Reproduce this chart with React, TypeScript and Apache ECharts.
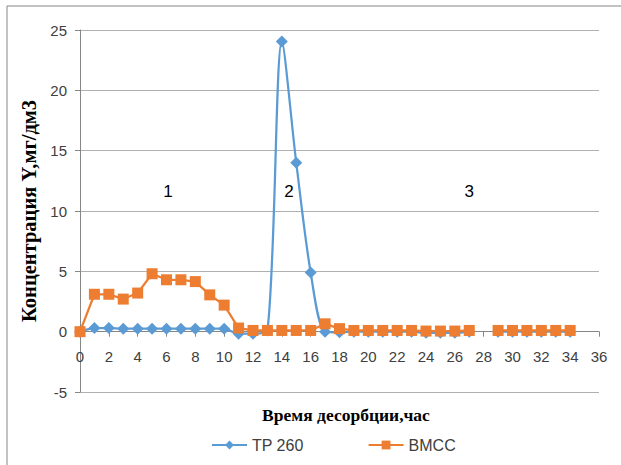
import React, { useEffect, useRef } from "react";
import * as echarts from "echarts";

const hours: number[] = [0,1,2,3,4,5,6,7,8,9,10,11,12,13,14,15,16,17,18,19,20,21,22,23,24,25,26,27,28,29,30,31,32,33,34];
const tp260: (number | null)[] = [0,0.3,0.3,0.25,0.25,0.25,0.25,0.25,0.25,0.25,0.25,-0.17,-0.17,0.1,24.05,14,4.9,0,-0.05,0,0,0,0,0,-0.1,-0.1,-0.1,0,null,0,0,0,0,0,0];
const bmcc: (number | null)[] = [0,3.1,3.1,2.7,3.2,4.8,4.3,4.3,4.15,3.05,2.2,0.3,0.1,0.1,0.1,0.1,0.1,0.65,0.25,0.1,0.1,0.1,0.1,0.1,0.05,0.05,0.05,0.1,null,0.1,0.1,0.1,0.1,0.1,0.1];
const zoneLabels: string[] = ["1", "2", "3"];
const zoneX: number[] = [6.1, 14.5, 27];
const zoneY: number[] = [11.6, 11.6, 11.6];
const seriesNames: string[] = ["TP 260", "BMCC"];
const yMin = -5;
const yMax = 25;

export default function App() {
  const ref = useRef<HTMLDivElement>(null);
  useEffect(() => {
    if (!ref.current) return;
    const chart = echarts.init(ref.current, null, { renderer: "svg" });
    const tickFont = { fontFamily: "Liberation Sans", fontSize: 15, color: "#404040" };
    const gridTop = 30;
    const gridBottom = 73;
    const plotH = 465 - gridTop - gridBottom;
    // shift the x axis from the plot bottom up to the y = 0 line
    const zeroOffset = -((0 - yMin) / (yMax - yMin)) * plotH;
    chart.setOption({
      animation: false,
      backgroundColor: "#ffffff",
      graphic: [
        {
          type: "rect",
          shape: { x: 7, y: 6, width: 800, height: 700 },
          style: { fill: "none", stroke: "#868686", lineWidth: 1 },
          silent: true,
        },
      ],
      grid: { left: 80, right: 22, top: gridTop, bottom: gridBottom, outerBoundsMode: "none", containLabel: false },
      legend: {
        left: 206,
        top: 432,
        itemWidth: 35,
        itemHeight: 11,
        itemGap: 64,
        textStyle: { fontFamily: "Liberation Sans", fontSize: 16, color: "#404040" },
        data: seriesNames,
      },
      xAxis: {
        type: "value",
        min: 0,
        max: 36,
        interval: 2,
        offset: zeroOffset,
        name: "Время десорбции,час",
        nameLocation: "middle",
        nameGap: 74,
        nameTextStyle: { fontFamily: "Liberation Serif", fontSize: 17.5, fontWeight: "bold", color: "#000", padding: [0, 0, 0, 13] },
        axisLine: { show: true, onZero: false, lineStyle: { color: "#868686", width: 1 } },
        axisTick: { show: true, length: 5, lineStyle: { color: "#868686" } },
        axisLabel: { ...tickFont, margin: 17 },
        splitLine: { show: false },
      },
      yAxis: {
        type: "value",
        min: yMin,
        max: yMax,
        interval: 5,
        name: "Концентрация Y,мг/дм3",
        nameLocation: "middle",
        nameGap: 32,
        nameTextStyle: { fontFamily: "Liberation Serif", fontSize: 20.5, fontWeight: "bold", color: "#000" },
        axisLine: { show: true, lineStyle: { color: "#868686", width: 1 } },
        axisTick: { show: true, length: 5, lineStyle: { color: "#868686" } },
        axisLabel: { ...tickFont, margin: 13 },
        splitLine: { show: true, lineStyle: { color: "#b0b0b0", width: 1 } },
      },
      series: [
        {
          name: seriesNames[0],
          type: "line",
          data: hours.map((h, i) => [h, tp260[i]]),
          smooth: 0.3,
          connectNulls: false,
          symbol: "diamond",
          symbolSize: 12,
          itemStyle: { color: "#5B9BD5" },
          lineStyle: { color: "#5B9BD5", width: 2.25 },
          z: 2,
          markPoint: {
            symbol: "circle",
            symbolSize: 0,
            label: {
              show: true,
              position: "inside",
              fontFamily: "Liberation Sans",
              fontSize: 17,
              color: "#000",
              formatter: (p: any) => p.name,
            },
            data: zoneLabels.map((t, i) => ({ name: t, coord: [zoneX[i], zoneY[i]] })),
          },
        },
        {
          name: seriesNames[1],
          type: "line",
          data: hours.map((h, i) => [h, bmcc[i]]),
          connectNulls: false,
          symbol: "rect",
          symbolSize: 11,
          itemStyle: { color: "#ED7D31" },
          lineStyle: { color: "#ED7D31", width: 2.25 },
          z: 3,
        },
      ],
    });
    return () => chart.dispose();
  }, []);
  return <div ref={ref} style={{ position: "fixed", left: 0, top: 0, width: 621, height: 465 }} />;
}
